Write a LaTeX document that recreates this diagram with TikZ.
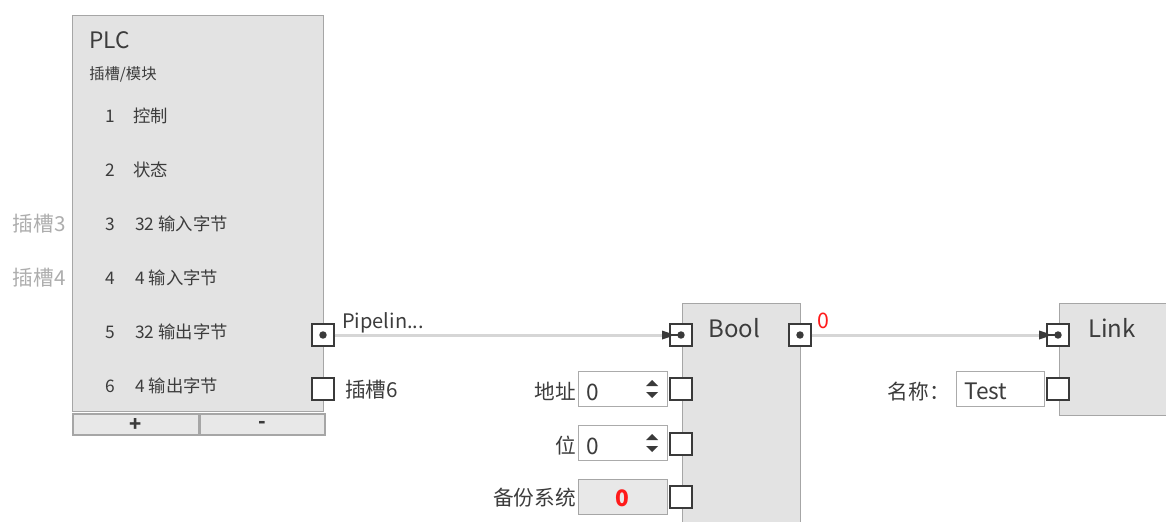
\documentclass[tikz,border=0pt]{standalone}
\usepackage{fontspec}
\setmainfont{Noto Sans CJK SC}
\usetikzlibrary{arrows.meta}
\definecolor{boxfill}{HTML}{E3E3E3}
\definecolor{boxline}{HTML}{A6A6A6}
\definecolor{txt}{HTML}{3C3C3C}
\definecolor{portc}{HTML}{3A3A3A}
\definecolor{wirec}{HTML}{D6D6D6}
\definecolor{lightlab}{HTML}{ADADAD}
\definecolor{fieldline}{HTML}{ABABAB}
\definecolor{btnfill}{HTML}{E8E8E8}
\definecolor{redv}{HTML}{FF1A1A}
\newcommand\fsz[1]{\fontsize{#1}{#1}\selectfont}
\begin{document}
\begin{tikzpicture}[x=0.75pt,y=-0.75pt,
  blockbox/.style={draw=boxline, fill=boxfill, line width=1.1pt, inner sep=0, anchor=north west},
  port/.style={draw=portc, fill=white, line width=1.1pt, minimum size=16.5pt, inner sep=0, rectangle},
  field/.style={draw=fieldline, fill=white, line width=0.9pt, minimum width=66.75pt, minimum height=26.25pt, inner sep=0, anchor=north west},
  btn/.style={draw=boxline, fill=btnfill, line width=0.9pt, inner sep=0, anchor=north west},
  pmbtn/.style={draw=boxline, fill=btnfill, line width=1.5pt, inner sep=0, anchor=north west},
  lbl/.style={inner sep=0, text=txt, anchor=base west},
  rlbl/.style={inner sep=0, text=txt, anchor=base east},
  wire/.style={draw=wirec, line width=2.25pt},
  dotc/.pic={\fill[portc] (0,0) circle (2.8pt);},
  intip/.pic={\fill[portc] (-19,-4.5) -- (-19,4.5) -- (-10,1.5) -- (-10,-1.5) -- cycle; \draw[portc,line width=1.8pt] (-11,0) -- (0,0); \fill[portc] (0,0) circle (2.8pt);},
  spin/.pic={\fill[portc] (-6,-3) -- (6,-3) -- (0,-9) -- cycle; \fill[portc] (-6,3) -- (6,3) -- (0,9) -- cycle;}
]
\useasboundingbox (0,0) rectangle (1166,521);

% PLC block
\node[blockbox, minimum width=188.25pt, minimum height=297pt] (plc) at (72,15) {};
\node[pmbtn, minimum width=94.5pt, minimum height=16pt] (plus) at (72,413) {};
\node[pmbtn, minimum width=93.75pt, minimum height=16pt] (minus) at (199,413) {};
\node[inner sep=0, text=portc] (plust) at (plus.center) {\fsz{15pt}\bfseries +};
\node[inner sep=0, text=portc] (minust) at (minus.center) {\fsz{15pt}\bfseries -};

\node[lbl] (plcname) at (89,48) {\fsz{17pt}PLC};
\node[lbl] (plcsub) at (89,79) {\fsz{11.5pt}插槽/模块};
\node[lbl] (n1) at (105,122) {\fsz{13pt}1};
\node[lbl] (t1) at (133,122) {\fsz{13pt}控制};
\node[lbl] (n2) at (105,176) {\fsz{13pt}2};
\node[lbl] (t2) at (133,176) {\fsz{13pt}状态};
\node[lbl] (n3) at (105,230) {\fsz{13pt}3};
\node[lbl] (t3) at (135,230) {\fsz{13pt}32 输入字节};
\node[lbl] (n4) at (105,284) {\fsz{13pt}4};
\node[lbl] (t4) at (135,284) {\fsz{13pt}4 输入字节};
\node[lbl] (n5) at (105,338) {\fsz{13pt}5};
\node[lbl] (t5) at (135,338) {\fsz{13pt}32 输出字节};
\node[lbl] (n6) at (105,392) {\fsz{13pt}6};
\node[lbl] (t6) at (135,392) {\fsz{13pt}4 输出字节};

\node[inner sep=0, text=lightlab, anchor=base east] (s3) at (66,231) {\fsz{15.5pt}插槽3};
\node[inner sep=0, text=lightlab, anchor=base east] (s4) at (66,285) {\fsz{15.5pt}插槽4};

% PLC ports
\node[port] (p5) at (323,335) {};
\pic at (p5.center) {dotc};
\node[port] (p6) at (323,389) {};
\node[lbl] (pipe) at (342,328) {\fsz{15pt}Pipelin...};
\node[lbl] (slot6) at (345,397) {\fsz{15.5pt}插槽6};

% Bool block
\node[blockbox, minimum width=88.5pt, minimum height=200pt] (bool) at (682,303) {};
\node[lbl] (boolt) at (708,337) {\fsz{18pt}Bool};
\node[port] (bin) at (681,335) {};
\node[port] (bout) at (800,335) {};
\pic at (bout.center) {dotc};
\node[port] (baddr) at (681,389) {};
\node[port] (bbit) at (681,444) {};
\node[port] (bbak) at (681,497) {};
\node[inner sep=0, text=redv, anchor=base west] (bval) at (817,328) {\fsz{16pt}0};

\node[field] (faddr) at (578,371) {};
\node[lbl] (vaddr) at (586,400) {\fsz{17pt}0};
\pic at (652,389) {spin};
\node[rlbl] (laddr) at (576,399) {\fsz{15.5pt}地址};

\node[field] (fbit) at (578,425) {};
\node[lbl] (vbit) at (586,454) {\fsz{17pt}0};
\pic at (652,443) {spin};
\node[rlbl] (lbit) at (576,453) {\fsz{15.5pt}位};

\node[btn, minimum width=66.75pt, minimum height=26.25pt] (fbak) at (578,479) {};
\node[inner sep=0, text=redv, anchor=base] (vbak) at (622,506) {\fsz{17pt}\bfseries 0};
\node[rlbl] (lbak) at (576,505) {\fsz{15.5pt}备份系统};

% Link block
\node[blockbox, minimum width=90pt, minimum height=84pt] (link) at (1059,303) {};
\node[lbl] (linkt) at (1088,337) {\fsz{18pt}Link};
\node[port] (lin) at (1058,335) {};
\node[port] (lname) at (1058,389) {};
\node[field, minimum width=66pt] (fname) at (956,371) {};
\node[lbl] (vname) at (964,399) {\fsz{17pt}Test};
\node[rlbl] (lname2) at (950,399) {\fsz{15.5pt}名称：};

% connectors
\draw[wire] (p5.east) -- (bin.west);
\pic at (bin.center) {intip};
\draw[wire] (bout.east) -- (lin.west);
\pic at (lin.center) {intip};
\end{tikzpicture}
\end{document}
